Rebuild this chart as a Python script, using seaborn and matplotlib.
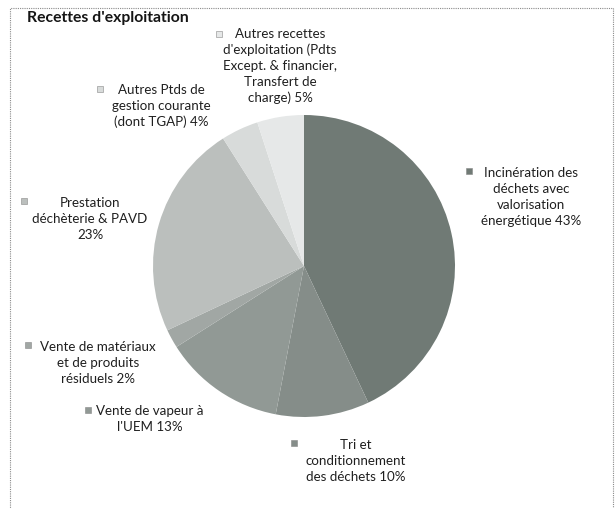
#!/usr/bin/env python3
"""Pie chart: Recettes d'exploitation (grey scanned style)."""

import matplotlib
matplotlib.use("Agg")
import matplotlib.pyplot as plt
import seaborn as sns
from matplotlib.patches import Rectangle

# ---- data -------------------------------------------------------------
labels = [
    "Incinération des\ndéchets avec\nvalorisation\nénergétique 43%",
    "Tri et\nconditionnement\ndes déchets 10%",
    "Vente de vapeur à\nl'UEM 13%",
    "Vente de matériaux\net de produits\nrésiduels 2%",
    "Prestation\ndéchèterie & PAVD\n23%",
    "Autres Ptds de\ngestion courante\n(dont TGAP) 4%",
    "Autres recettes\nd'exploitation (Pdts\nExcept. & financier,\nTransfert de\ncharge) 5%",
]
shares = [43, 10, 13, 2, 23, 4, 5]
slice_colors = ["#707a75", "#858d89", "#919995", "#a1a7a4", "#bbbfbd", "#d8dbda", "#e6e8e8"]

# label layout in pixel coords (text centre x, centre y, marker x, marker y)
label_pos = [
    (531, 197, 469, 171),
    (356, 461, 294, 443),
    (150, 419, 88, 410),
    (98, 363, 28, 345),
    (90, 219, 24, 201),
    (161, 106, 100, 89),
    (280, 66, 219, 34),
]

W, H = 616, 508


def main():
    sns.set_theme(style="white")
    plt.rcParams["font.family"] = ["Lato", "DejaVu Sans"]

    fig = plt.figure(figsize=(W / 100, H / 100), dpi=100)
    fig.patch.set_facecolor("white")
    ax = fig.add_axes([0, 0, 1, 1])

    ax.pie(
        shares,
        colors=slice_colors,
        startangle=90,
        counterclock=False,
        center=(304, H - 266),
        radius=151,
        wedgeprops={"linewidth": 0},
    )
    ax.set_xlim(0, W)
    ax.set_ylim(0, H)
    ax.set_aspect("equal")
    ax.axis("off")

    for text, col, (tx, ty, mx, my) in zip(labels, slice_colors, label_pos):
        ax.text(tx, H - ty, text, ha="center", va="center", fontsize=9.6,
                color="#1f1f1f", linespacing=1.38)
        ax.plot(mx, H - my, marker="s", markersize=4.5, color=col,
                markeredgecolor="#888888", markeredgewidth=0.4)

    ax.text(27, H - 18, "Recettes d'exploitation", ha="left", va="center",
            fontsize=11.3, fontweight="bold", color="#151515")

    # dotted frame around the chart area
    ax.add_patch(Rectangle((10, -5), 603, H - 8 + 5, fill=False,
                           linestyle=(0, (1, 1)), linewidth=0.8,
                           edgecolor="#8a8a8a"))

    fig.savefig("out.png", dpi=100, facecolor="white")
    plt.close(fig)


if __name__ == "__main__":
    main()
